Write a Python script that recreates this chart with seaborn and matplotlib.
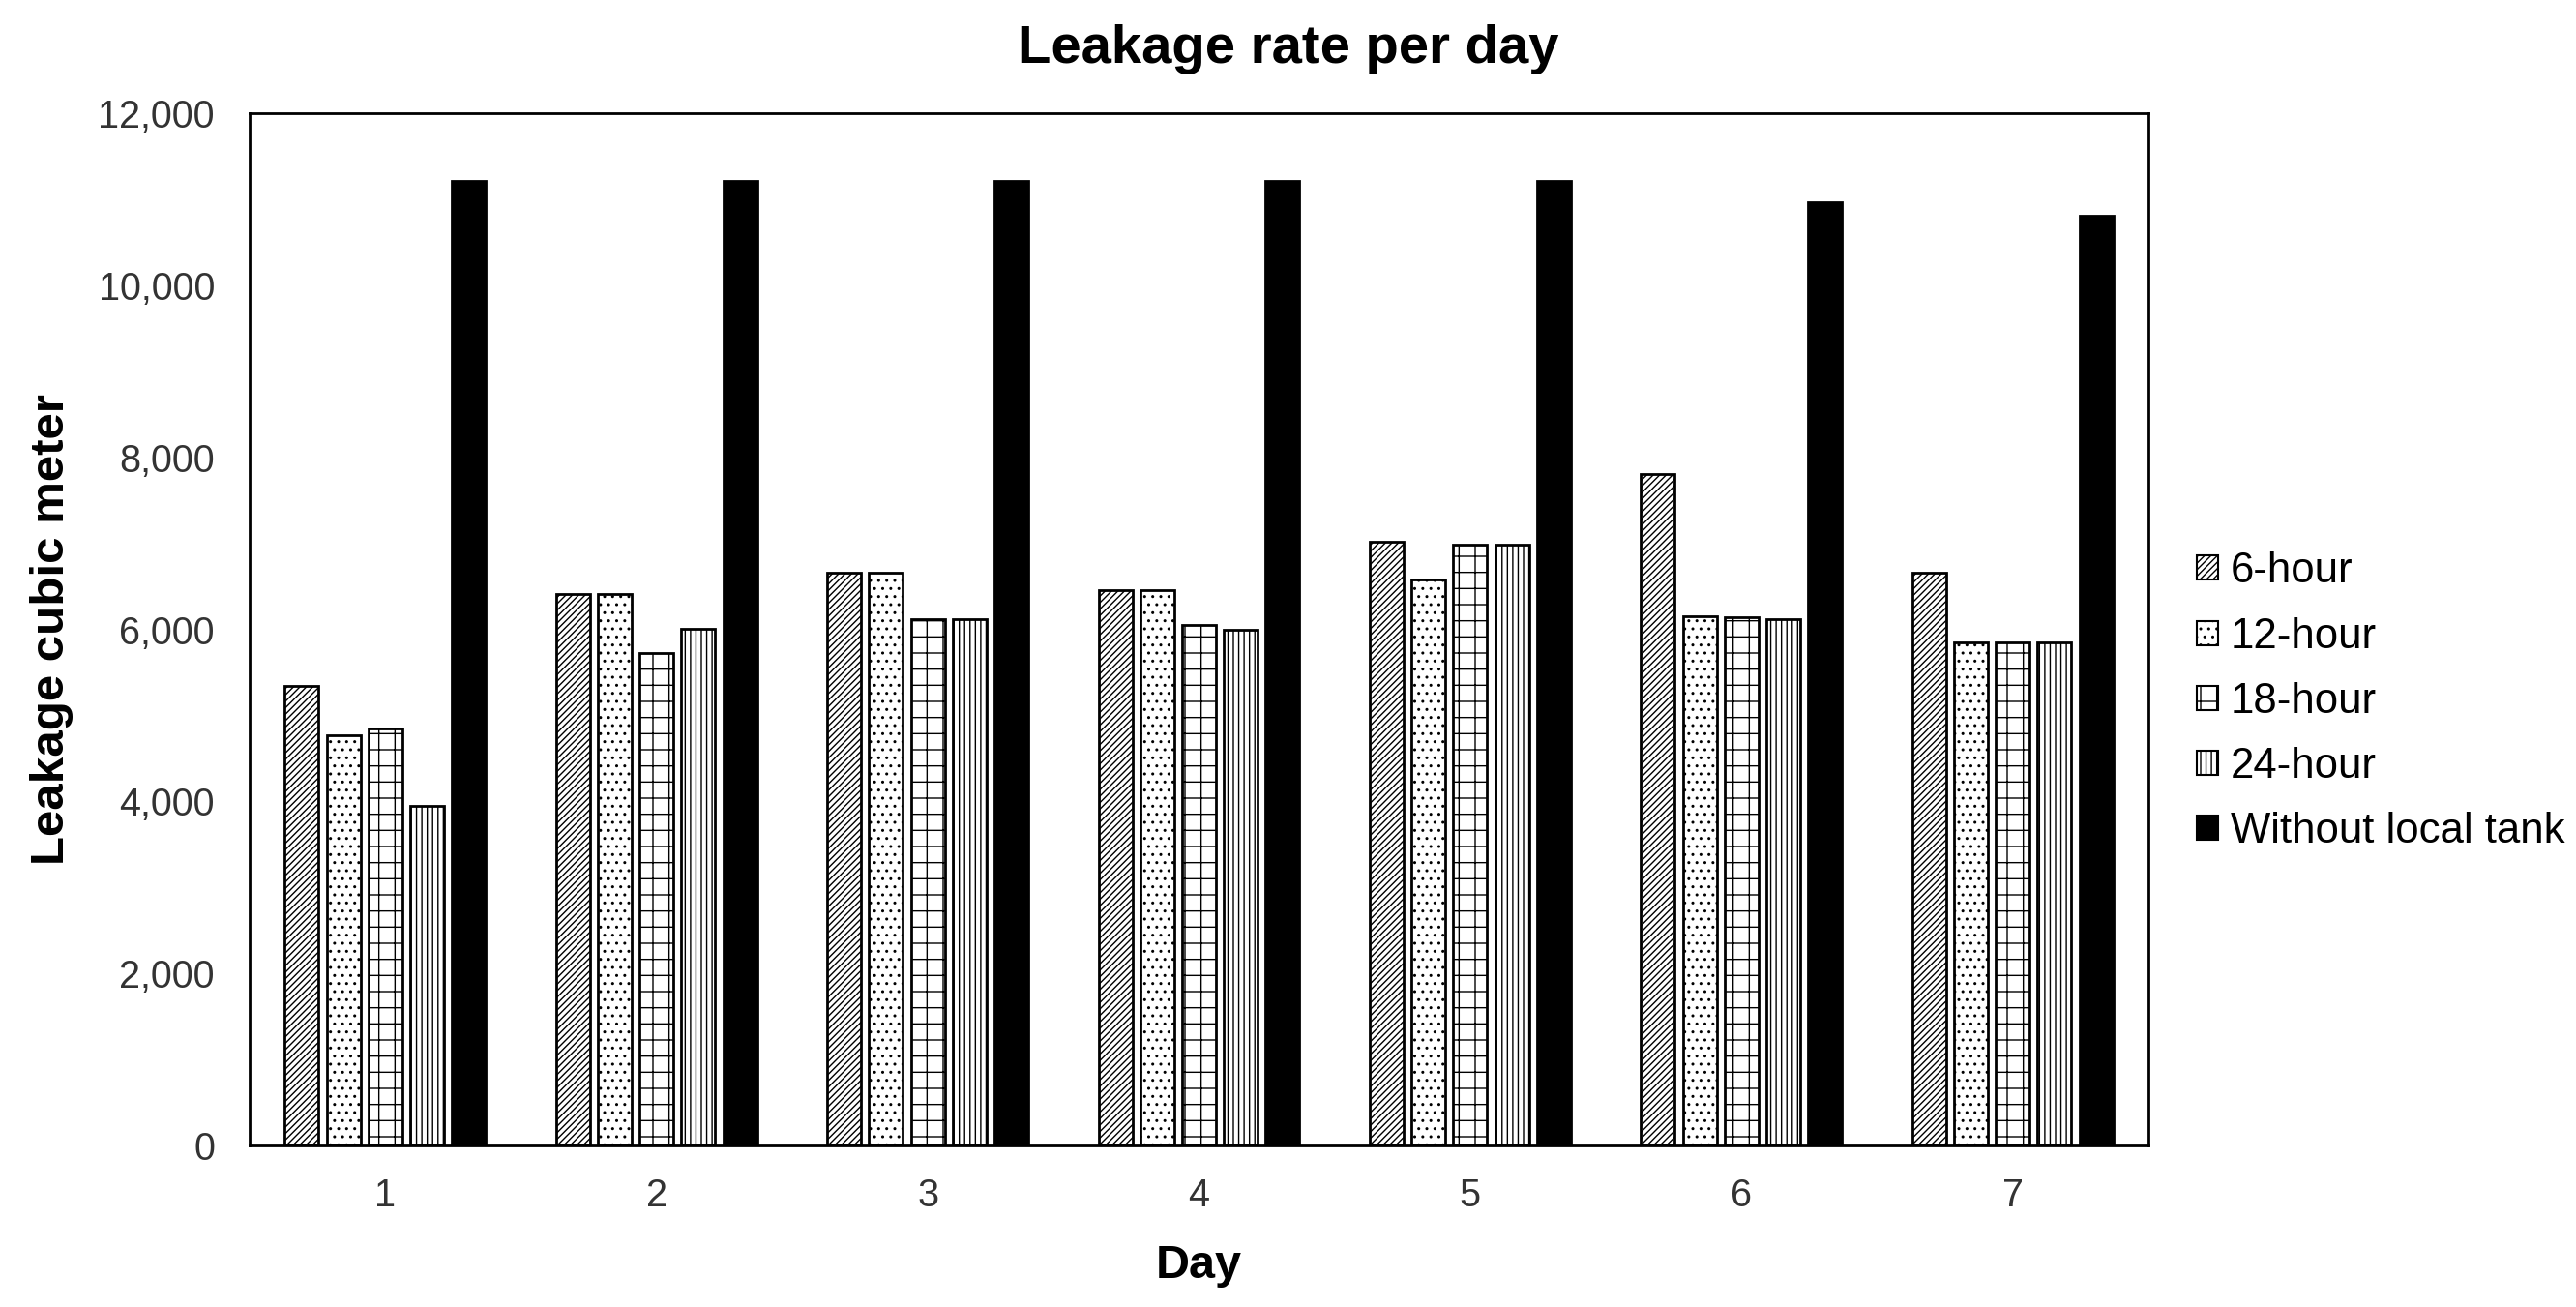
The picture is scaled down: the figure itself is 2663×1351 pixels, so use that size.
import matplotlib
matplotlib.use("Agg")
import matplotlib.pyplot as plt
import matplotlib.patches as mpatches
from matplotlib.ticker import FuncFormatter
import seaborn as sns
import pandas as pd

# values
days = ["1", "2", "3", "4", "5", "6", "7"]
scenarios = ["6-hour", "12-hour", "18-hour", "24-hour", "Without local tank"]
leak_6h = [5340, 6410, 6660, 6460, 7020, 7810, 6660]
leak_12h = [4770, 6410, 6660, 6460, 6580, 6150, 5850]
leak_18h = [4850, 5720, 6120, 6050, 6980, 6140, 5850]
leak_24h = [3950, 6010, 6120, 6000, 6980, 6120, 5850]
leak_no_tank = [11210, 11210, 11210, 11210, 11210, 10970, 10810]

series = [leak_6h, leak_12h, leak_18h, leak_24h, leak_no_tank]
rows = []
for name, vals in zip(scenarios, series):
    for d, v in zip(days, vals):
        rows.append({"Day": d, "Leakage": v, "Scenario": name})
df = pd.DataFrame(rows)

sns.set_theme(style="white")
plt.rcParams["font.family"] = ["Liberation Sans", "DejaVu Sans"]
plt.rcParams["hatch.linewidth"] = 1.0

fills = ["white", "white", "white", "white", "black"]
hatches = ["/////", "..", "+", "|||", ""]

fig = plt.figure(figsize=(26.63, 13.51), dpi=100)
ax = fig.add_axes([0.0969, 0.1236, 0.7371, 0.7898])

sns.barplot(data=df, x="Day", y="Leakage", hue="Scenario", order=days,
            hue_order=scenarios, palette=fills, edgecolor="black",
            linewidth=2, width=0.77, gap=0.19, errorbar=None, ax=ax,
            legend=False)

for container, h in zip(ax.containers, hatches):
    for bar in container:
        bar.set_hatch(h)

ax.set_ylim(0, 12000)
ax.set_yticks(range(0, 12001, 2000))
ax.yaxis.set_major_formatter(FuncFormatter(lambda v, p: f"{int(v):,}"))
ax.tick_params(axis="both", length=0, labelsize=28.5, colors="#333333")
ax.tick_params(axis="y", pad=26)
ax.tick_params(axis="x", pad=24)
for s in ax.spines.values():
    s.set_visible(True)
    s.set_color("black")
    s.set_linewidth(2)

fig.suptitle("Leakage rate per day", fontsize=40.5, fontweight="bold",
             color="black", x=0.5, y=0.962, va="center")
ax.set_xlabel("Day", fontsize=35, fontweight="bold", color="black", labelpad=22)
ax.set_ylabel("Leakage cubic meter", fontsize=35.5, fontweight="bold",
              color="black", labelpad=18)

handles = [mpatches.Patch(facecolor=f, edgecolor="black", hatch=h, linewidth=1.5)
           for f, h in zip(fills, hatches)]
fig.legend(handles, scenarios, loc="center left", bbox_to_anchor=(0.838, 0.463),
           frameon=False, fontsize=31.5, handlelength=0.5, handleheight=0.5,
           handletextpad=0.3, labelspacing=0.6, labelcolor="black")

fig.savefig("out.png", dpi=100)
